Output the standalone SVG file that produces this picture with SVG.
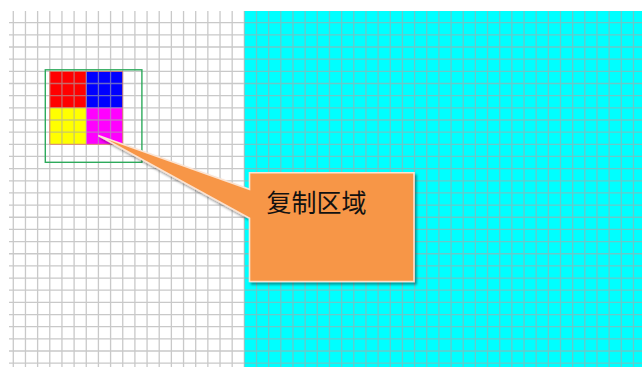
<svg xmlns="http://www.w3.org/2000/svg" width="642" height="367" viewBox="0 0 642 367">
<defs>
<style>
.grid{fill:none;stroke:#a8a8a8;stroke-width:1.3;stroke-opacity:0.62}
.lbl{font-family:"Noto Sans CJK SC","Noto Sans",sans-serif;font-size:25px;fill:#111111}
</style>
<filter id="sh" x="-20%" y="-20%" width="140%" height="140%">
<feDropShadow dx="2" dy="2.5" stdDeviation="1.2" flood-color="#000000" flood-opacity="0.4"/>
</filter>
</defs>
<rect width="642" height="367" fill="#ffffff"/>
<g id="target-area">
<rect x="244.34" y="11" width="397.66" height="356" fill="#00ffff"/>
</g>
<g id="source-blocks">
<rect x="49.78" y="71.34" width="36.48" height="36.48" fill="#ff0000"/>
<rect x="86.26" y="71.34" width="36.48" height="36.48" fill="#0000ff"/>
<rect x="49.78" y="107.82" width="36.48" height="36.48" fill="#ffff00"/>
<rect x="86.26" y="107.82" width="36.48" height="36.48" fill="#ff00ff"/>
</g>
<g id="grid">
<path class="grid" d="M13.3 11V367M25.46 11V367M37.62 11V367M49.78 11V367M61.94 11V367M74.1 11V367M86.26 11V367M98.42 11V367M110.58 11V367M122.74 11V367M134.9 11V367M147.06 11V367M159.22 11V367M171.38 11V367M183.54 11V367M195.7 11V367M207.86 11V367M220.02 11V367M232.18 11V367M244.34 11V367M256.5 11V367M268.66 11V367M280.82 11V367M292.98 11V367M305.14 11V367M317.3 11V367M329.46 11V367M341.62 11V367M353.78 11V367M365.94 11V367M378.1 11V367M390.26 11V367M402.42 11V367M414.58 11V367M426.74 11V367M438.9 11V367M451.06 11V367M463.22 11V367M475.38 11V367M487.54 11V367M499.7 11V367M511.86 11V367M524.02 11V367M536.18 11V367M548.34 11V367M560.5 11V367M572.66 11V367M584.82 11V367M596.98 11V367M609.14 11V367M621.3 11V367M633.46 11V367M9 22.7H642M9 34.86H642M9 47.02H642M9 59.18H642M9 71.34H642M9 83.5H642M9 95.66H642M9 107.82H642M9 119.98H642M9 132.14H642M9 144.3H642M9 156.46H642M9 168.62H642M9 180.78H642M9 192.94H642M9 205.1H642M9 217.26H642M9 229.42H642M9 241.58H642M9 253.74H642M9 265.9H642M9 278.06H642M9 290.22H642M9 302.38H642M9 314.54H642M9 326.7H642M9 338.86H642M9 351.02H642M9 363.18H642"/>
</g>
<g id="blocks-outline">
<rect x="49.78" y="71.34" width="72.96" height="72.96" fill="none" stroke="#f06040" stroke-width="0.8" stroke-opacity="0.7"/>
</g>
<g id="selection">
<rect x="45.3" y="69.8" width="96.6" height="92.5" fill="none" stroke="#2eaa5c" stroke-width="1.4"/>
</g>
<g id="callout">
<path d="M249.5 172.7H414V281.5H249.5V218.3L98.3 135.5L249.5 189.3Z" fill="#f79646" stroke="#fbe3d2" stroke-width="1.6" stroke-linejoin="miter" filter="url(#sh)"/>
<text class="lbl" x="266.5" y="212">复制区域</text>
</g>
<g id="connectors"></g>
</svg>
